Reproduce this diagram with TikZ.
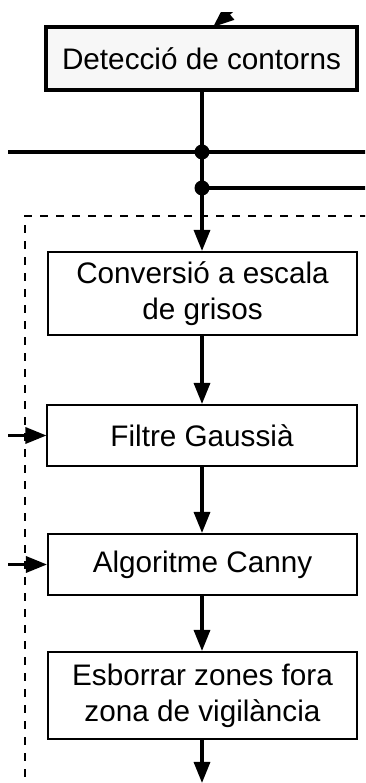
\documentclass[tikz,border=0pt]{standalone}
\usepackage{fontspec}
\setmainfont{Liberation Sans}
\usetikzlibrary{arrows.meta}

\begin{document}
\begin{tikzpicture}[x=1bp, y=1bp, >={Triangle[length=21bp, width=16bp]},
    pas/.style={draw, line width=2bp, minimum width=309bp, align=center,
        inner sep=0pt, font=\fontsize{29.8}{36}\selectfont},
    fil/.style={line width=3.2bp}]
    \useasboundingbox (0,0) rectangle (365,783);
    \begin{scope}
        \clip (0,0) rectangle (365,770);

        % passos
        \node[pas, line width=3.2bp, fill=gray!6, minimum width=311bp, minimum height=63bp] (det) at (201.5,724.5) {Detecció de contorns};
        \node[pas, minimum height=83bp] (conv) at (202.5,489.5) {Conversió a escala\\de grisos};
        \node[pas, minimum height=61bp] (filt) at (202,347.5) {Filtre Gaussià};
        \node[pas, minimum height=61bp] (alg) at (202.5,218.5) {Algoritme Canny};
        \node[pas, minimum height=87bp] (esb) at (202.5,87.5) {Esborrar zones fora\\zona de vigilància};

        \coordinate (ent) at (273,807);
        \coordinate (top) at (213,756);
        \draw[fil, ->] (ent) -- (top);

        % bifurcacions
        \coordinate (j1) at (202,631);
        \coordinate (j2) at (202,595);
        \coordinate (esq) at (8,631);
        \coordinate (dre) at (370,631);
        \coordinate (dre2) at (370,595);
        \draw[fil] (det.south -| j1) -- (j1) -- (j2);
        \draw[fil] (esq) -- (dre);
        \draw[fil] (j2) -- (dre2);
        \fill (j1) circle (7.5bp);
        \fill (j2) circle (7.5bp);

        % zona
        \draw[line width=1.8bp, dash pattern=on 8bp off 8bp] (25,-10) |- (380,567);

        \draw[fil, ->] (j2) -- (conv.north -| j2);
        \draw[fil, ->] (conv.south -| j2) -- (filt.north -| j2);
        \draw[fil, ->] (filt.south -| j2) -- (alg.north -| j2);
        \draw[fil, ->] (alg.south -| j2) -- (esb.north -| j2);
        \coordinate (fi) at (202,0);
        \draw[fil, ->] (esb.south -| fi) -- (fi);

        \coordinate (inF) at (8,347.5);
        \coordinate (inA) at (8,218.5);
        \draw[fil, ->] (inF) -- (filt.west);
        \draw[fil, ->] (inA) -- (alg.west);
    \end{scope}
\end{tikzpicture}
\end{document}
